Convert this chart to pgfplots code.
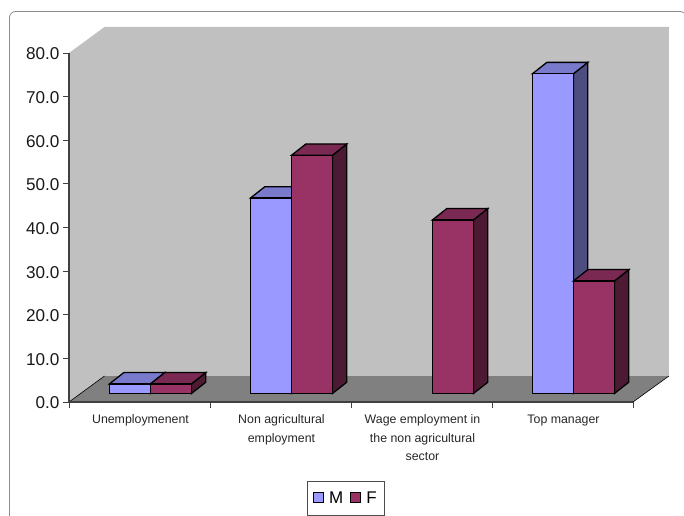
\documentclass[border=0pt]{standalone}
\usepackage{fontspec}
\setmainfont{Liberation Sans}
\usepackage{pgfplots}
\pgfplotsset{compat=1.18}

\definecolor{wall}{HTML}{C0C0C0}
\definecolor{floorc}{HTML}{808080}
\definecolor{mfront}{HTML}{9999FF}
\definecolor{mtop}{HTML}{7A7ACC}
\definecolor{mside}{HTML}{4D4D80}
\definecolor{ffront}{HTML}{993366}
\definecolor{ftop}{HTML}{7A2952}
\definecolor{fside}{HTML}{4D1A33}

% one 3D column: left edge in x, value, colour prefix
\newcommand{\column}[3]{%
  \pgfmathsetmacro{\xa}{#1}
  \pgfmathsetmacro{\xb}{#1+0.2905}
  \pgfmathsetmacro{\xc}{#1+0.2905+0.102}
  \pgfmathsetmacro{\xd}{#1+0.102}
  \pgfmathsetmacro{\ya}{1.95}
  \pgfmathsetmacro{\yb}{1.95+#2}
  \pgfmathsetmacro{\yc}{1.95+#2+2.6}
  \pgfmathsetmacro{\ye}{1.95+2.6}
  \edef\tmp{\noexpand\addplot[forget plot,fill=#3side,draw=black,line width=1.3bp] coordinates {(\xb,\ya) (\xc,\ye) (\xc,\yc) (\xb,\yb)} -- cycle;
  \noexpand\addplot[forget plot,fill=#3top,draw=black,line width=1.3bp] coordinates {(\xa,\yb) (\xb,\yb) (\xc,\yc) (\xd,\yc)} -- cycle;
  \noexpand\addplot[forget plot,fill=#3front,draw=black,line width=1.3bp] coordinates {(\xa,\ya) (\xb,\ya) (\xb,\yb) (\xa,\yb)} -- cycle;}%
  \tmp
}

\begin{document}
\begin{tikzpicture}
\path[use as bounding box] (-69bp,-114bp) rectangle (615bp,402bp);
\draw[gray!90,line width=0.8bp,rounded corners=6bp] (-59.5bp,-114bp) -- (-59.5bp,390.5bp) -- (617bp,390.5bp) -- (617bp,-114bp);
\begin{axis}[
    at={(0,0)}, anchor=origin,
    scale only axis,
    width=564bp, height=349bp,
    xmin=0, xmax=4, ymin=0, ymax=80,
    clip=false,
    axis on top,
    axis x line*=bottom, axis y line*=left,
    axis line style={draw=black!75,line width=1.2bp},
    xtick={0,1,2,3,4},
    x tick label as interval,
    xticklabels={Unemploymenent,{Non agricultural\\employment},{Wage employment in\\the non agricultural\\sector},Top manager},
    xticklabel style={align=center,font=\fontsize{12.4}{18.4}\selectfont,text=black!85,yshift=-3.5bp,xshift=1bp},
    ytick={0,10,...,80},
    yticklabel style={font=\fontsize{17.2}{18}\selectfont,text=black!90,yshift=-1bp,/pgf/number format/.cd,fixed,fixed zerofill,precision=1,assume math mode=true},
    tick align=outside,
    major tick length=6bp,
    tick style={draw=black!75,line width=0.8bp},
    legend columns=2,
    legend cell align=left,
    legend image code/.code={\draw[#1,line width=1bp] (0bp,-4.5bp) rectangle (10bp,5bp);},
    legend style={at={(0.491,-0.275)},anchor=center,draw=black!70,fill=white,font=\fontsize{17}{18}\selectfont,
      inner xsep=6bp,inner ysep=8.5bp,
      /tikz/every even column/.style={column sep=5bp},
      /tikz/every odd column/.style={column sep=3bp}},
]
% wall and floor
\addplot[forget plot,fill=wall,draw=none] coordinates {(0,0) (0,80) (0.252,85.96) (4.255,85.96) (4.255,5.96) (0.252,5.96)} -- cycle;
\addplot[forget plot,fill=floorc,draw=none] coordinates {(0,0) (4,0) (4.255,5.96) (0.252,5.96)} -- cycle;
\addplot[forget plot,black,line width=0.6bp] coordinates {(0,0) (0.252,5.96)};
\addplot[forget plot,black,line width=0.6bp] coordinates {(4,0) (4.255,5.96)};

\addlegendimage{fill=mfront,draw=black}
\addlegendentry{M}
\addlegendimage{fill=ffront,draw=black}
\addlegendentry{F}

\column{0.287}{2.2}{m}
\column{0.578}{2.2}{f}
\column{1.287}{44.8}{m}
\column{1.578}{54.6}{f}
\column{2.578}{39.8}{f}
\column{3.287}{73.3}{m}
\column{3.578}{25.8}{f}
\end{axis}
\end{tikzpicture}
\end{document}
